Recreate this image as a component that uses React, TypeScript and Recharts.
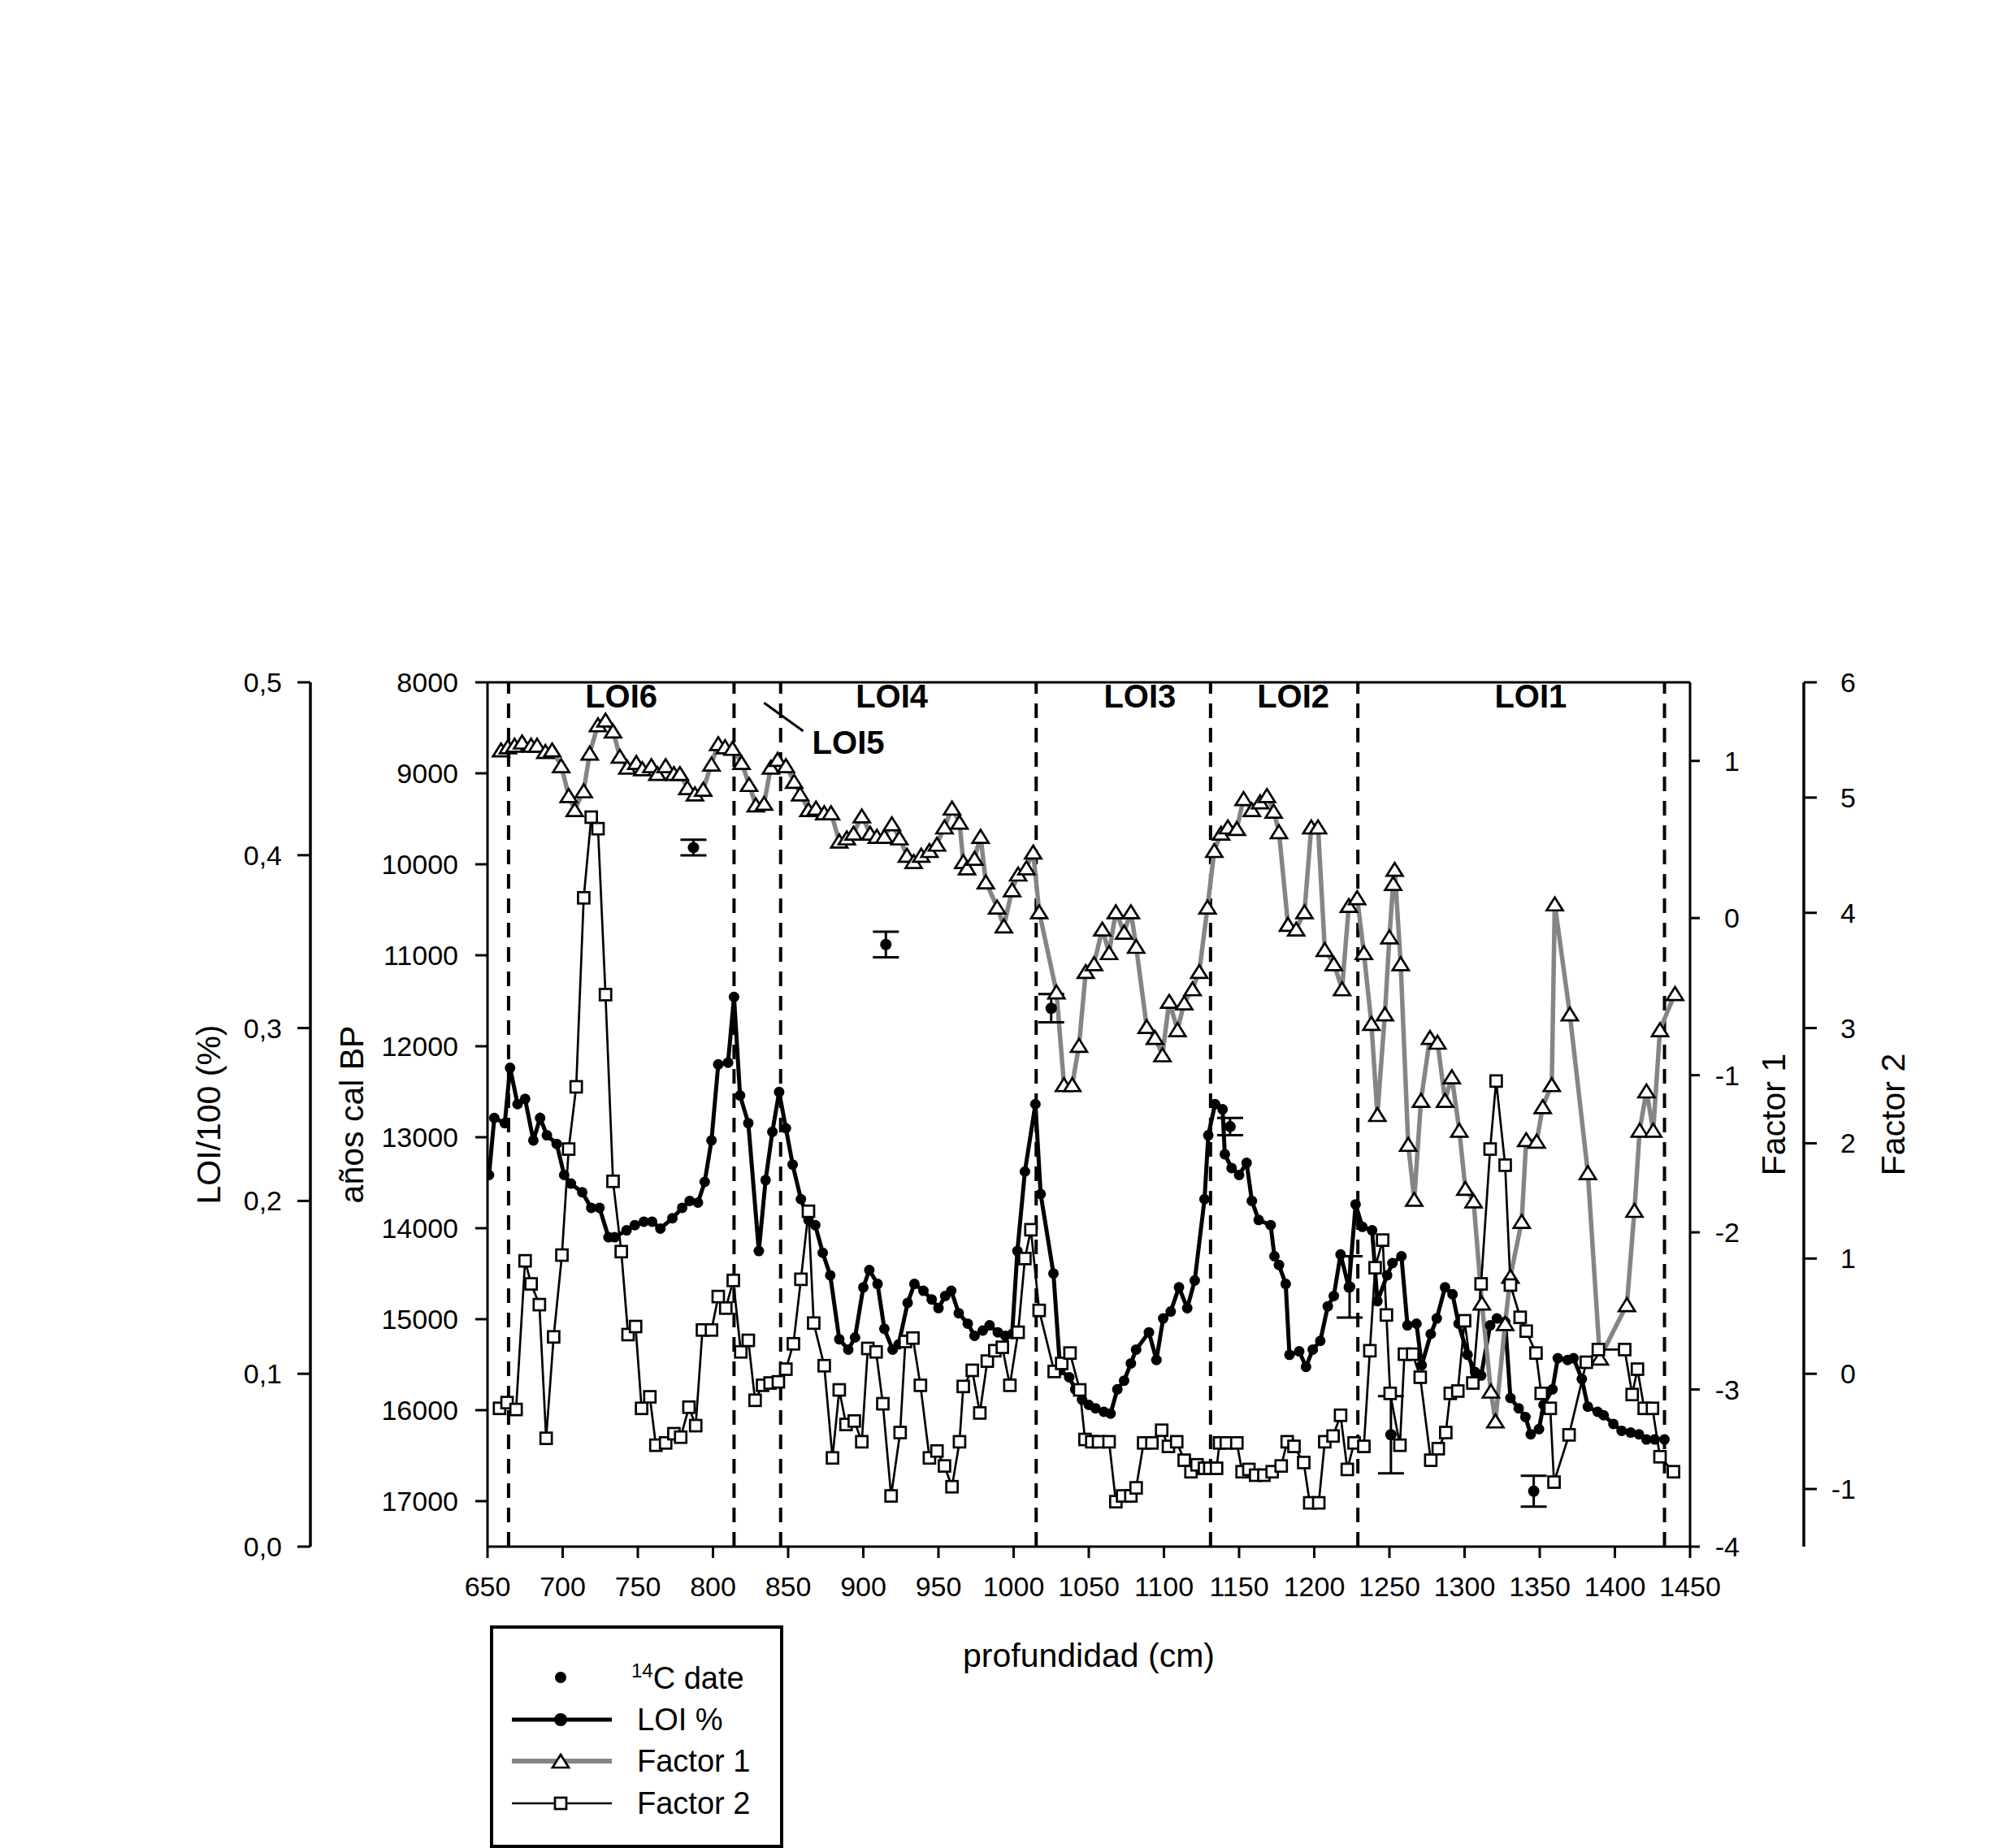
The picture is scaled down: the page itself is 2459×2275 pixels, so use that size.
import React from "react";
import {
  ComposedChart,
  Line,
  Scatter,
  XAxis,
  YAxis,
  ReferenceLine,
  ReferenceDot,
  ErrorBar,
} from "recharts";

const FONT = '"Liberation Sans", Arial, Helvetica, sans-serif';

// depth (cm), LOI/100
const loiPoints: [number, number][] = [
  [651, 0.215], [654.5, 0.248], [661.5, 0.245], [665, 0.277], [670, 0.256], [675, 0.259],
  [680.5, 0.235], [685, 0.248], [689.5, 0.238], [696, 0.233], [701, 0.215], [705.5, 0.21],
  [713, 0.205], [719, 0.196], [724.5, 0.196], [730.5, 0.179], [734.5, 0.179], [742.5, 0.183],
  [748, 0.186], [754, 0.188], [759.5, 0.188], [765, 0.184], [773, 0.19], [779.5, 0.196],
  [784.5, 0.2], [790, 0.199], [794.5, 0.211], [799, 0.235], [803.5, 0.279], [810, 0.28],
  [814, 0.318], [818, 0.261], [823.5, 0.245], [830.5, 0.171], [835, 0.212], [839.5, 0.24],
  [844, 0.263], [848.5, 0.242], [853, 0.221], [858.5, 0.201], [863.5, 0.189], [868, 0.186],
  [873, 0.17], [878, 0.157], [884, 0.12], [890, 0.114], [894.5, 0.121], [900, 0.15],
  [904, 0.16], [909.5, 0.152], [914, 0.126], [919.5, 0.114], [923.5, 0.117], [929.5, 0.141],
  [934, 0.152], [940, 0.148], [945.5, 0.143], [950, 0.138], [954.5, 0.145], [958.5, 0.148],
  [963.5, 0.135], [969.5, 0.129], [974, 0.122], [979.5, 0.125], [984, 0.128], [989.5, 0.124],
  [994.5, 0.122], [999, 0.123], [1002.5, 0.171], [1007.5, 0.217], [1014.5, 0.256], [1018, 0.204],
  [1026.5, 0.158], [1031, 0.102], [1037, 0.098], [1041, 0.091], [1045.5, 0.085], [1050, 0.082],
  [1054.5, 0.08], [1060, 0.078], [1064.5, 0.077], [1069, 0.091], [1073.5, 0.096], [1078, 0.106],
  [1081.5, 0.114], [1090, 0.124], [1095, 0.108], [1099.5, 0.132], [1104.5, 0.136], [1110, 0.15],
  [1115.5, 0.138], [1120.5, 0.154], [1127, 0.201], [1129.5, 0.238], [1134, 0.256], [1139, 0.253],
  [1140.5, 0.227], [1145, 0.219], [1150, 0.215], [1155, 0.222], [1158.5, 0.2], [1163, 0.189],
  [1171, 0.186], [1173.5, 0.168], [1176.5, 0.163], [1181, 0.152], [1183.5, 0.111], [1190, 0.113],
  [1194.5, 0.104], [1199, 0.114], [1204, 0.119], [1209, 0.139], [1213, 0.145], [1217.5, 0.169],
  [1223, 0.15], [1227.5, 0.198], [1232, 0.185], [1238.5, 0.183], [1242, 0.142], [1248.5, 0.157],
  [1252, 0.164], [1258, 0.168], [1262, 0.128], [1268, 0.129], [1271.5, 0.105], [1277.5, 0.123],
  [1281.5, 0.132], [1287, 0.15], [1292, 0.146], [1296, 0.129], [1302, 0.111], [1307, 0.101],
  [1311, 0.099], [1317, 0.128], [1321.5, 0.132], [1327, 0.13], [1330.5, 0.086], [1336, 0.08],
  [1340.5, 0.075], [1344, 0.065], [1349.5, 0.068], [1352.5, 0.082], [1358.5, 0.091], [1362, 0.109],
  [1368.5, 0.108], [1372.5, 0.109], [1378, 0.097], [1382, 0.081], [1388.5, 0.078], [1392.5, 0.076],
  [1399, 0.071], [1404.5, 0.067], [1410.5, 0.066], [1416, 0.065], [1421, 0.062], [1426.5, 0.062],
  [1433, 0.062],
];

// depth (cm), Factor 1 score
const factor1Points: [number, number][] = [
  [659, 1.07], [663.5, 1.09], [668, 1.1], [673, 1.12], [679, 1.1], [683, 1.1], [688.5, 1.06],
  [693, 1.07], [699, 0.97], [704, 0.78], [708, 0.69], [714, 0.81], [718, 1.05], [723.5, 1.23],
  [728.5, 1.26], [733.5, 1.19], [738, 1.03], [743, 0.96], [749, 0.99], [753, 0.95], [759, 0.97],
  [763, 0.92], [768.5, 0.97], [774, 0.92], [778, 0.92], [783, 0.83], [788, 0.79], [793.5, 0.82],
  [799, 0.98], [803.5, 1.11], [808, 1.09], [813, 1.08], [819, 0.99], [824, 0.85], [828.5, 0.72],
  [834, 0.73], [838.5, 0.96], [843, 1.01], [848.5, 0.97], [854, 0.87], [858, 0.79], [863.5, 0.69],
  [868.5, 0.7], [874, 0.67], [878.5, 0.67], [884, 0.49], [889, 0.51], [893.5, 0.54], [899, 0.65],
  [904.5, 0.54], [909, 0.52], [914, 0.52], [919, 0.6], [924, 0.51], [929, 0.4], [933.5, 0.36],
  [938.5, 0.4], [944, 0.43], [949, 0.47], [954, 0.58], [959, 0.7], [964, 0.61], [966.5, 0.36],
  [969, 0.32], [974, 0.38], [978, 0.52], [981.5, 0.23], [989, 0.07], [993.5, -0.05], [999, 0.18],
  [1003, 0.28], [1008.5, 0.32], [1013, 0.42], [1017, 0.04], [1028.5, -0.47], [1033.5, -1.06],
  [1039, -1.06], [1043.5, -0.81], [1048, -0.34], [1053.5, -0.29], [1059, -0.07], [1063.5, -0.22],
  [1068, 0.04], [1073.5, -0.09], [1078, 0.04], [1081.5, -0.18], [1088.5, -0.69], [1094, -0.76],
  [1099, -0.87], [1103.5, -0.53], [1109, -0.71], [1113.5, -0.54], [1119, -0.45], [1123.5, -0.34],
  [1129, 0.07], [1133.5, 0.43], [1138, 0.54], [1142.5, 0.58], [1148.5, 0.57], [1153, 0.76],
  [1158.5, 0.69], [1164, 0.74], [1168.5, 0.78], [1173, 0.68], [1176.5, 0.55], [1182.5, -0.04],
  [1188, -0.07], [1193.5, 0.04], [1198, 0.58], [1202.5, 0.58], [1207, -0.2], [1213, -0.29],
  [1218.5, -0.45], [1223, 0.08], [1228.5, 0.13], [1233, -0.22], [1238, -0.67], [1242, -1.25],
  [1247, -0.61], [1250, -0.12], [1252.5, 0.22], [1253.5, 0.31], [1257.5, -0.29], [1262.5, -1.44],
  [1266.5, -1.79], [1271, -1.16], [1277, -0.76], [1282, -0.79], [1287, -1.16], [1291.5, -1.01],
  [1296.5, -1.35], [1300.5, -1.72], [1306, -1.8], [1311.5, -2.45], [1317.5, -3.01], [1320.5, -3.2],
  [1327, -2.58], [1330.5, -2.28], [1338, -1.93], [1341, -1.41], [1348, -1.42], [1352, -1.2],
  [1358, -1.06], [1360, 0.09], [1370, -0.61], [1382, -1.62], [1390, -2.8], [1408, -2.46],
  [1413, -1.86], [1416.5, -1.35], [1421, -1.1], [1425.5, -1.35], [1430, -0.71], [1440, -0.48],
];

// depth (cm), Factor 2 score
const factor2Points: [number, number][] = [
  [658, -0.3], [663, -0.25], [669, -0.31], [675, 0.98], [679, 0.78], [684.5, 0.6], [689, -0.56],
  [694, 0.32], [699.5, 1.03], [704, 1.95], [709, 2.49], [714, 4.13], [719, 4.83], [723.5, 4.73],
  [728.5, 3.29], [733.5, 1.67], [739, 1.06], [743.5, 0.34], [748.5, 0.41], [752.5, -0.3],
  [758, -0.2], [762, -0.62], [768.5, -0.6], [774, -0.52], [778.5, -0.55], [784, -0.29],
  [788.5, -0.45], [793, 0.38], [799, 0.38], [803.5, 0.67], [808.5, 0.57], [813.5, 0.81],
  [818.5, 0.19], [823.5, 0.29], [828, -0.23], [833, -0.1], [838, -0.08], [843.5, -0.07],
  [848.5, 0.04], [853.5, 0.26], [858.5, 0.82], [863.5, 1.41], [867, 0.44], [874, 0.07],
  [879.5, -0.73], [884, -0.14], [888.5, -0.44], [894, -0.41], [899, -0.59], [903, 0.22],
  [908.5, 0.19], [913, -0.26], [918.5, -1.06], [924.5, -0.51], [928, 0.28], [933, 0.31],
  [938, -0.1], [944, -0.73], [949, -0.67], [954, -0.8], [959, -0.98], [964, -0.59], [966.5, -0.11],
  [972.5, 0.03], [977.5, -0.34], [982.5, 0.11], [987.5, 0.2], [992.5, 0.23], [997.5, -0.1],
  [1003, 0.36], [1007.5, 1.0], [1011.5, 1.25], [1017, 0.55], [1027, 0.02], [1032, 0.09],
  [1037.5, 0.18], [1044, -0.14], [1047.5, -0.57], [1052, -0.59], [1056.5, -0.59], [1063.5, -0.59],
  [1068, -1.11], [1072.5, -1.06], [1078, -1.06], [1081.5, -0.99], [1086.5, -0.6], [1092, -0.6],
  [1098.5, -0.49], [1103, -0.63], [1108.5, -0.59], [1113.5, -0.75], [1118, -0.85], [1122, -0.79],
  [1127, -0.82], [1130.5, -0.82], [1135, -0.82], [1137, -0.6], [1141.5, -0.6], [1148.5, -0.6],
  [1152, -0.85], [1156.5, -0.83], [1161, -0.88], [1166.5, -0.88], [1172, -0.85], [1178, -0.8],
  [1182, -0.59], [1186.5, -0.63], [1193, -0.77], [1197, -1.12], [1203, -1.12], [1207, -0.59],
  [1212.5, -0.54], [1217.5, -0.36], [1222, -0.83], [1226.5, -0.6], [1233, -0.63], [1237, 0.2],
  [1240.5, 0.92], [1245.5, 1.16], [1248, 0.51], [1250.5, -0.17], [1257, -0.62], [1260, 0.17],
  [1265.5, 0.17], [1270.5, -0.03], [1277.5, -0.75], [1282.5, -0.65], [1287.5, -0.51],
  [1290.5, -0.17], [1295.5, -0.15], [1300, 0.46], [1305.5, -0.08], [1311, 0.78], [1317, 1.95],
  [1321, 2.54], [1327, 1.81], [1330.5, 0.77], [1337, 0.49], [1341, 0.37], [1347.5, 0.18],
  [1351, -0.17], [1357, -0.3], [1359.5, -0.94], [1369.5, -0.53], [1381, 0.1], [1389, 0.21],
  [1406.5, 0.21], [1411.5, -0.18], [1415, 0.04], [1419.5, -0.3], [1425, -0.3], [1430, -0.72],
  [1439, -0.85],
];

// depth (cm), age (cal BP), error
const dates14C: [number, number, number][] = [
  [787, 9816, 85],
  [915, 10882, 140],
  [1025, 11582, 155],
  [1144, 12883, 95],
  [1223.5, 14645, 338],
  [1251, 16270, 425],
  [1346, 16890, 170],
];

const zoneBounds = [664, 814, 845, 1015, 1131, 1229, 1433];
const zoneLabels: [string, number][] = [
  ["LOI6", 739],
  ["LOI4", 919],
  ["LOI3", 1084],
  ["LOI2", 1186],
  ["LOI1", 1344],
];

const depthTicks = [650, 700, 750, 800, 850, 900, 950, 1000, 1050, 1100, 1150, 1200, 1250, 1300, 1350, 1400, 1450];
const loiTicks = [0, 0.1, 0.2, 0.3, 0.4, 0.5];
const ageTicks = [8000, 9000, 10000, 11000, 12000, 13000, 14000, 15000, 16000, 17000];
const f1Ticks = [-4, -3, -2, -1, 0, 1];
const f2Ticks = [-1, 0, 1, 2, 3, 4, 5, 6];

const loiData = loiPoints.map(([x, v]) => ({ x, loi: v }));
const f1Data = factor1Points.map(([x, v]) => ({ x, f1: v }));
const f2Data = factor2Points.map(([x, v]) => ({ x, f2: v }));
const dateData = dates14C.map(([x, yr, err]) => ({ x, yr, err }));

const GRAY = "#858585";
const tickStyle = { fontSize: 34, fill: "#000", fontFamily: FONT };
const lineStyle = { stroke: "#000", strokeWidth: 3 };

const triangle = (cx: number, cy: number, w = 10, h = 8) =>
  `${cx},${cy - h} ${cx + w},${cy + h} ${cx - w},${cy + h}`;

const TriangleDot = (p: any) =>
  p.cx == null ? null : (
    <polygon key={`t${p.index}`} points={triangle(p.cx, p.cy)} fill="#fff" stroke="#000" strokeWidth={2.7} />
  );

const SquareDot = (p: any) =>
  p.cx == null ? null : (
    <rect key={`s${p.index}`} x={p.cx - 7} y={p.cy - 7} width={14} height={14} fill="#fff" stroke="#000" strokeWidth={2.7} />
  );

const LoiDot = (p: any) =>
  p.cx == null ? null : <circle key={`c${p.index}`} cx={p.cx} cy={p.cy} r={6.5} fill="#000" />;

const vTitle = (text: string, pos: (vb: any) => number) => (props: any) => {
  const vb = props.viewBox;
  const cx = pos(vb);
  const cy = vb.y + vb.height / 2;
  return (
    <text
      x={cx}
      y={cy}
      transform={`rotate(-90 ${cx} ${cy})`}
      textAnchor="middle"
      dominantBaseline="central"
      fontSize={41}
      fontFamily={FONT}
      fill="#000"
    >
      {text}
    </text>
  );
};

const rightTick = (shift: number) => (p: any) => (
  <text
    x={p.x + shift}
    y={p.y}
    textAnchor="end"
    dominantBaseline="central"
    fontSize={34}
    fontFamily={FONT}
    fill="#000"
  >
    {String(p.payload.value)}
  </text>
);

const comma = (v: number) => v.toFixed(1).replace(".", ",");

const Legend = () => (
  <svg
    width={2459}
    height={2275}
    style={{ position: "absolute", left: 0, top: 0, pointerEvents: "none" }}
  >
    <rect x={605} y={2003} width={357} height={270} fill="none" stroke="#000" strokeWidth={4} />
    <g fontFamily={FONT} fontSize={38} fill="#000">
      <circle cx={690} cy={2065} r={7} fill="#000" />
      <text x={777} y={2079}>
        <tspan fontSize={24} dy={-14}>14</tspan>
        <tspan dy={14}>C date</tspan>
      </text>

      <line x1={630} y1={2117} x2={753} y2={2117} stroke="#000" strokeWidth={5} />
      <circle cx={690} cy={2117} r={8} fill="#000" />
      <text x={784} y={2117} dominantBaseline="central">LOI %</text>

      <line x1={630} y1={2168} x2={753} y2={2168} stroke={GRAY} strokeWidth={6} />
      <polygon points={triangle(690, 2168)} fill="#fff" stroke="#000" strokeWidth={2.7} />
      <text x={784} y={2168} dominantBaseline="central">Factor 1</text>

      <line x1={630} y1={2220} x2={753} y2={2220} stroke="#000" strokeWidth={2.7} />
      <rect x={683} y={2213} width={14} height={14} fill="#fff" stroke="#000" strokeWidth={2.7} />
      <text x={784} y={2220} dominantBaseline="central">Factor 2</text>
    </g>
  </svg>
);

export default function App() {
  return (
    <div style={{ position: "absolute", left: 0, top: 0, width: 2459, height: 2275, background: "#fff" }}>
      <ComposedChart width={2459} height={2275} margin={{ top: 840, right: 60, bottom: 211, left: 100 }}>
        <XAxis
          dataKey="x"
          type="number"
          domain={[650, 1450]}
          ticks={depthTicks}
          interval={0}
          allowDataOverflow
          height={160}
          tickSize={14}
          tickMargin={23}
          tick={tickStyle}
          tickLine={lineStyle}
          axisLine={lineStyle}
          label={(props: any) => {
            const vb = props.viewBox;
            return (
              <text
                x={vb.x + vb.width / 2}
                y={vb.y + 134}
                textAnchor="middle"
                dominantBaseline="central"
                fontSize={41}
                fontFamily={FONT}
                fill="#000"
              >
                profundidad (cm)
              </text>
            );
          }}
        />
        {/* axes are stacked outward in id order: "age" sits on the plot, "loi" outside it */}
        <YAxis
          yAxisId="age"
          dataKey="yr"
          type="number"
          orientation="left"
          reversed
          domain={[8000, 17500]}
          ticks={ageTicks}
          interval={0}
          allowDataOverflow
          width={218}
          tickSize={15}
          tickMargin={21}
          tick={tickStyle}
          tickLine={lineStyle}
          axisLine={lineStyle}
          label={vTitle("años cal BP", (vb) => vb.x + vb.width - 167)}
        />
        <YAxis
          yAxisId="loi"
          type="number"
          orientation="left"
          domain={[0, 0.5]}
          ticks={loiTicks}
          interval={0}
          allowDataOverflow
          width={282}
          tickSize={16}
          tickMargin={19}
          tick={tickStyle}
          tickFormatter={comma}
          tickLine={lineStyle}
          axisLine={{ stroke: "#000", strokeWidth: 3.5 }}
          label={vTitle("LOI/100 (%)", (vb) => vb.x + vb.width - 125)}
        />
        <YAxis
          yAxisId="f1"
          type="number"
          orientation="right"
          domain={[-4, 1.5]}
          ticks={f1Ticks}
          interval={0}
          allowDataOverflow
          width={140}
          tickSize={12}
          tickMargin={0}
          tick={rightTick(49)}
          tickLine={lineStyle}
          axisLine={lineStyle}
          label={vTitle("Factor 1", (vb) => vb.x + 103)}
        />
        <YAxis
          yAxisId="f2"
          type="number"
          orientation="right"
          domain={[-1.5, 6]}
          ticks={f2Ticks}
          interval={0}
          allowDataOverflow
          width={179}
          tickSize={16}
          tickMargin={0}
          tick={rightTick(48)}
          tickLine={lineStyle}
          axisLine={{ stroke: "#000", strokeWidth: 3.5 }}
          label={vTitle("Factor 2", (vb) => vb.x + 110)}
        />

        <ReferenceLine yAxisId="age" y={8000} stroke="#000" strokeWidth={3} />
        {zoneBounds.map((d) => (
          <ReferenceLine key={d} yAxisId="age" x={d} stroke="#000" strokeWidth={4} strokeDasharray="18 12" />
        ))}

        <Line
          data={loiData}
          dataKey="loi"
          yAxisId="loi"
          type="linear"
          stroke="#000"
          strokeWidth={5}
          dot={LoiDot}
          activeDot={false}
          isAnimationActive={false}
        />
        <Line
          data={f1Data}
          dataKey="f1"
          yAxisId="f1"
          type="linear"
          stroke={GRAY}
          strokeWidth={5.5}
          dot={TriangleDot}
          activeDot={false}
          isAnimationActive={false}
        />
        <Line
          data={f2Data}
          dataKey="f2"
          yAxisId="f2"
          type="linear"
          stroke="#000"
          strokeWidth={2.7}
          dot={SquareDot}
          activeDot={false}
          isAnimationActive={false}
        />
        <Scatter
          data={dateData}
          dataKey="yr"
          yAxisId="age"
          fill="#000"
          shape={(p: any) => <circle cx={p.cx} cy={p.cy} r={7} fill="#000" />}
          isAnimationActive={false}
        >
          <ErrorBar dataKey="err" direction="y" width={16} stroke="#000" strokeWidth={3} />
        </Scatter>

        {zoneLabels.map(([name, d]) => (
          <ReferenceDot
            key={name}
            yAxisId="age"
            x={d}
            y={8151}
            r={0}
            fill="none"
            stroke="none"
            label={{ value: name, position: "center", fontSize: 40, fontWeight: 700, fontFamily: FONT, fill: "#000" }}
          />
        ))}
        <ReferenceDot
          yAxisId="age"
          x={866}
          y={8660}
          r={0}
          fill="none"
          stroke="none"
          label={{ value: "LOI5", position: "right", offset: 0, fontSize: 40, fontWeight: 700, fontFamily: FONT, fill: "#000" }}
        />
        <ReferenceLine
          yAxisId="age"
          segment={[
            { x: 834, y: 8226 },
            { x: 860, y: 8536 },
          ]}
          stroke="#000"
          strokeWidth={3}
        />
      </ComposedChart>
      <Legend />
    </div>
  );
}
